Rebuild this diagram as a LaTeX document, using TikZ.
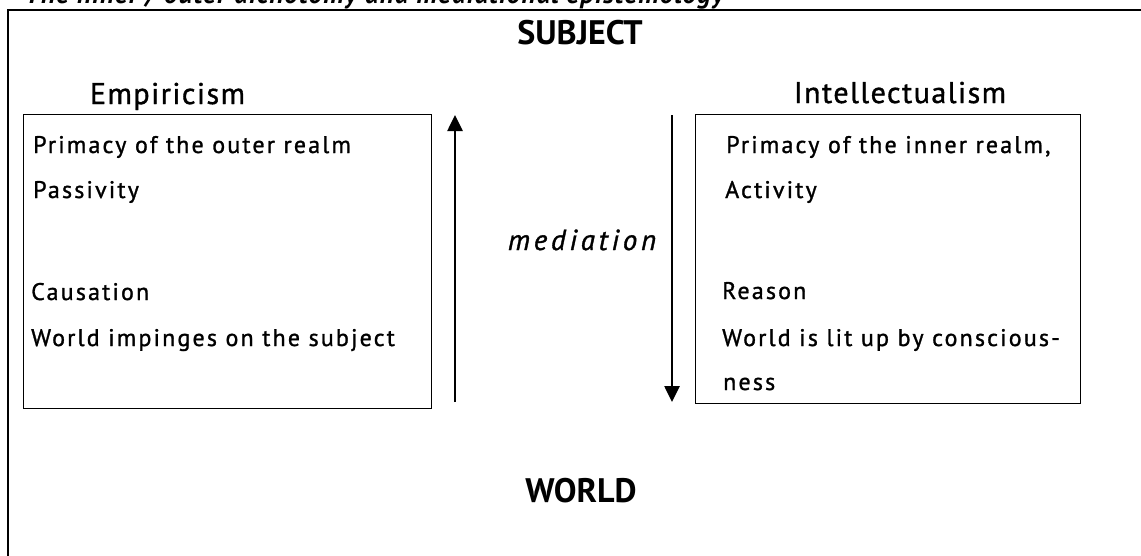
\documentclass[tikz,border=0pt]{standalone}
\usepackage{fontspec}
\setmainfont{PT Sans}
\newfontfamily\bodyf[LetterSpace=9,FakeBold=1.2]{PT Sans}
\newfontfamily\headf[LetterSpace=5,FakeBold=1.2]{PT Sans}
\newfontfamily\medf[LetterSpace=13,FakeBold=1.2]{PT Sans}
\newfontfamily\titlef[LetterSpace=4]{PT Sans}
\usetikzlibrary{arrows.meta}
\begin{document}
\begin{tikzpicture}[x=1pt,y=-1pt,
  txt/.style={anchor=base west, inner sep=0pt, font=\bodyf\fontsize{24}{28}\selectfont},
  head/.style={anchor=base, inner sep=0pt, font=\headf\fontsize{30}{34}\selectfont},
  big/.style={anchor=base, inner sep=0pt, font=\bfseries\fontsize{34}{38}\selectfont},
  boxed/.style={draw, line width=1.2pt, inner sep=0pt, anchor=north west},
  arr/.style={line width=2.6pt, -{Triangle[length=16pt,width=15pt]}},
  frame/.style={draw, line width=2.5pt}]
\useasboundingbox (0,0) rectangle (1141,555);
\clip (0,0) rectangle (1141,555);
\draw[frame] (8,10) rectangle (1170,580);
\node[anchor=base west, inner sep=0pt, font=\titlef\bfseries\itshape\fontsize{27}{30}\selectfont] (title) at (25,3.3) {The inner / outer dichotomy and mediational epistemology};
\node[big] (subj) at (580,44) {SUBJECT};
\node[big] (world) at (581,502) {WORLD};
\node[head] (emp) at (167.5,104) {Empiricism};
\node[head] (intel) at (900,103) {Intellectualism};
\node[boxed, minimum width=408pt, minimum height=294pt] (L) at (23,114) {};
\node[boxed, minimum width=385pt, minimum height=289pt] (R) at (695,114) {};
\node[txt] (l1) at (33,153) {Primacy of the outer realm};
\node[txt] (l2) at (33,198) {Passivity};
\node[txt] (l3) at (31,300) {Causation};
\node[txt] (l4) at (31,346) {World impinges on the subject};
\node[txt] (r1) at (726,153) {Primacy of the inner realm,};
\node[txt] (r2) at (725,198) {Activity};
\node[txt] (r3) at (722,299) {Reason};
\node[txt] (r4) at (722,346) {World is lit up by conscious-};
\node[txt] (r5) at (723,390) {ness};
\node[anchor=base, inner sep=0pt, font=\medf\itshape\fontsize{29}{32}\selectfont] (med) at (582,250) {mediation};
\coordinate (ua) at (455,402);
\coordinate (ub) at (455,115);
\coordinate (da) at (672,115);
\coordinate (db) at (672,402);
\draw[arr] (ua) -- (ub);
\draw[arr] (da) -- (db);
\end{tikzpicture}
\end{document}
